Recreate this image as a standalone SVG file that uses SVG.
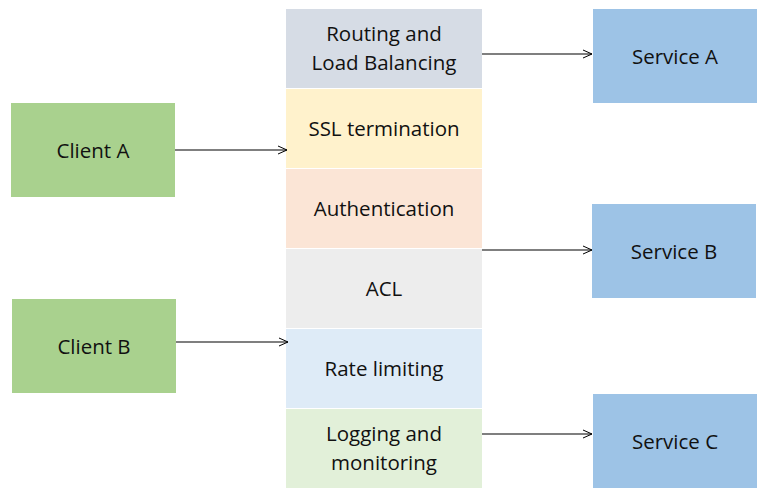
<svg xmlns="http://www.w3.org/2000/svg" width="766" height="500" viewBox="0 0 766 500">
<style>
text{font-family:"Open Sans","Liberation Sans",sans-serif;font-size:20.5px;fill:#111;text-anchor:middle;dominant-baseline:central}
.c{fill:#A9D18E}.s{fill:#9DC3E6}
.e{stroke:#000;stroke-width:1.2;fill:none;marker-end:url(#a)}
</style>
<defs><marker id="a" markerWidth="12" markerHeight="10" refX="10" refY="5" orient="auto" markerUnits="userSpaceOnUse"><polyline points="1,1 10,5 1,9" fill="none" stroke="#000" stroke-width="1"/></marker></defs>
<rect width="766" height="500" fill="#fff"/>
<g id="routing"><rect x="286" y="9" width="196" height="79" fill="#D6DCE5"/><text x="384" y="33">Routing and</text><text x="384" y="62">Load Balancing</text></g>
<g id="ssl"><rect x="286" y="89" width="196" height="79" fill="#FFF2CC"/><text x="384" y="128">SSL termination</text></g>
<g id="auth"><rect x="286" y="169" width="196" height="79" fill="#FBE5D6"/><text x="384" y="208">Authentication</text></g>
<g id="acl"><rect x="286" y="249" width="196" height="79" fill="#EDEDED"/><text x="384" y="288">ACL</text></g>
<g id="rate"><rect x="286" y="329" width="196" height="79" fill="#DEEBF7"/><text x="384" y="368">Rate limiting</text></g>
<g id="logging"><rect x="286" y="409" width="196" height="79" fill="#E2F0D9"/><text x="384" y="433">Logging and</text><text x="384" y="462">monitoring</text></g>
<g id="clientA"><rect class="c" x="11" y="103" width="164" height="94"/><text x="93" y="150">Client A</text></g>
<g id="clientB"><rect class="c" x="12" y="299" width="164" height="94"/><text x="94" y="346">Client B</text></g>
<g id="serviceA"><rect class="s" x="593" y="9" width="164" height="94"/><text x="675" y="56">Service A</text></g>
<g id="serviceB"><rect class="s" x="592" y="204" width="164" height="94"/><text x="674" y="251">Service B</text></g>
<g id="serviceC"><rect class="s" x="593" y="394" width="164" height="94"/><text x="675" y="441">Service C</text></g>
<g id="connectors">
<line class="e" x1="175" y1="150" x2="287" y2="150"/>
<line class="e" x1="176" y1="342" x2="288" y2="342"/>
<line class="e" x1="482" y1="54" x2="592" y2="54"/>
<line class="e" x1="482" y1="250" x2="592" y2="250"/>
<line class="e" x1="482" y1="434" x2="592" y2="434"/>
</g>
</svg>
